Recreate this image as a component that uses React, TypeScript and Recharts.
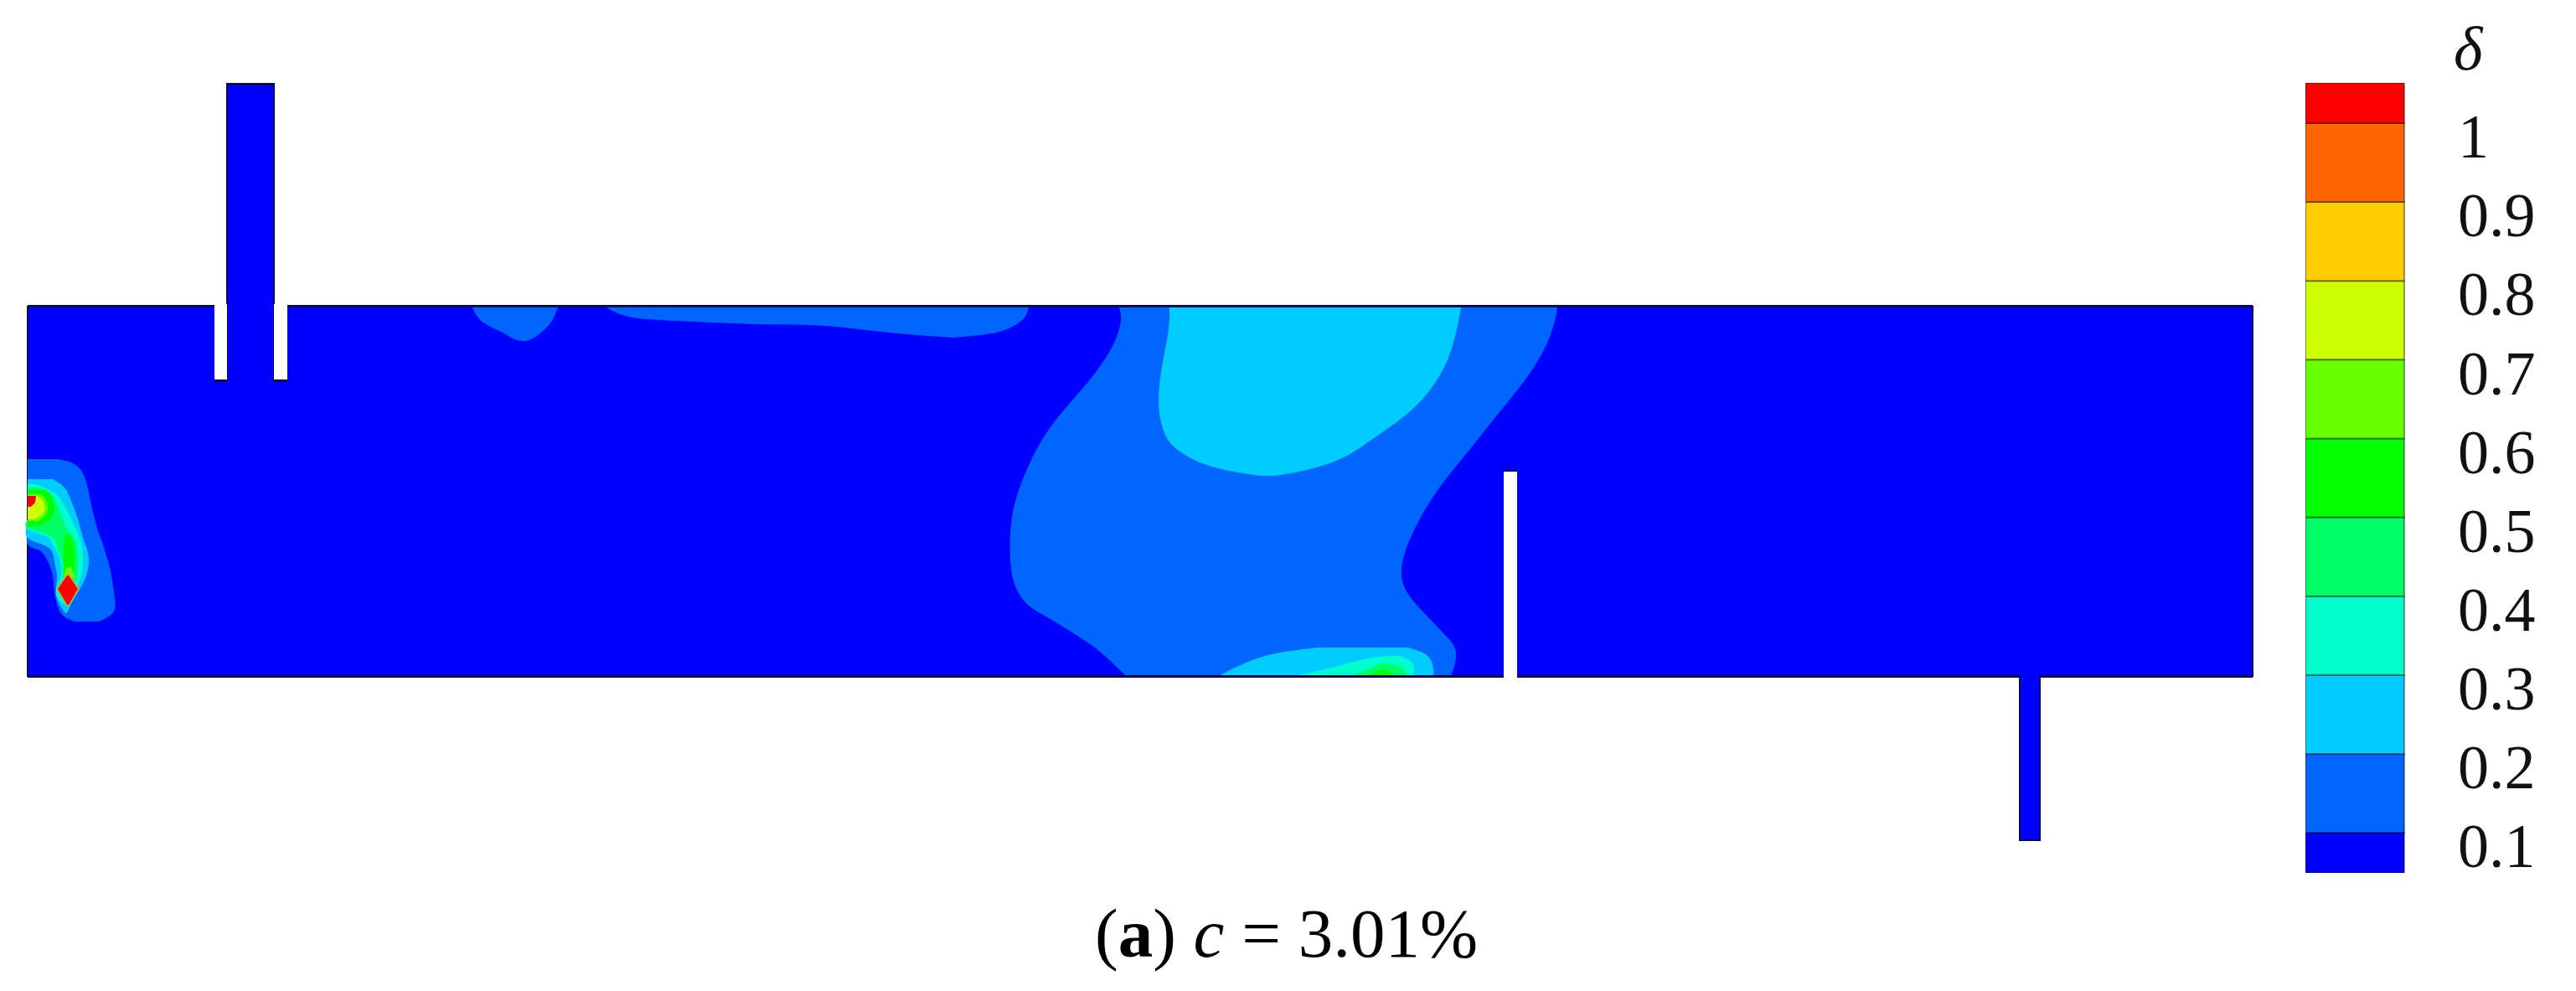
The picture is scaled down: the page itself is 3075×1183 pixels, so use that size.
import React from 'react';
import { Area, BarChart, Bar, ComposedChart, XAxis, YAxis } from 'recharts';

const WIDTH = 3075;
const HEIGHT = 1183;
const SERIF = '"Liberation Serif", serif';
const EDGE = '#0a0a50';

// contour levels of the colour bar, lowest first
const levelLabels = ['0.1', '0.2', '0.3', '0.4', '0.5', '0.6', '0.7', '0.8', '0.9', '1'];
const levelTicks = [0.1, 0.2, 0.3, 0.4, 0.5, 0.6, 0.7, 0.8, 0.9, 1];
const bandColors = ['#0000ff', '#0066ff', '#00ccff', '#00ffcc', '#00ff66', '#00ff00', '#66ff00', '#ccff00', '#ffcc00', '#ff6600', '#ff0000'];
const bandSizes = [0.1, 0.1, 0.1, 0.1, 0.1, 0.1, 0.1, 0.1, 0.1, 0.1, 0.051];

// every region: [height, left edge, right edge]
type Row = [number, number, number];

const tank: Row[] = [[365, 33, 2689], [808, 33, 2689]];
const inletPipe: Row[] = [[100, 271, 327], [455, 271, 327]];
const outletPipe: Row[] = [[808, 2411, 2435], [1003, 2411, 2435]];
const leftSlot: Row[] = [[363, 256, 271], [454, 256, 271]];
const rightSlot: Row[] = [[363, 327, 343], [454, 327, 343]];
const baffle: Row[] = [[562, 1795, 1811], [810, 1795, 1811]];

// thin dark outlines along the flat edges
const outlineStrips: Row[][] = [
  [[364, 33, 2689], [367, 33, 2689]],
  [[806, 33, 2689], [809, 33, 2689]],
  [[99, 270, 328], [102, 270, 328]],
  [[1002, 2410, 2436], [1004, 2410, 2436]],
];
// where a pipe joins the tank the outline stops
const openingStrips: Row[][] = [
  [[800, 2412, 2434], [815, 2412, 2434]],
  [[360, 272, 326], [372, 272, 326]],
];
const slotStrips: Row[][] = [
  [[453, 256, 271], [456, 256, 271]],
  [[453, 327, 343], [456, 327, 343]],
  [[561, 1795, 1811], [563, 1795, 1811]],
];

const topSmall: Row[] = [[367, 564, 666], [377, 569, 662], [387, 580, 656], [397, 600, 646], [404, 612, 636], [407, 622, 628]];
const topLong: Row[] = [[367, 724, 1228], [378, 750, 1224], [383, 806, 1219], [387, 908, 1214], [389, 985, 1210], [397, 1061, 1189], [403, 1138, 1139]];
const midBlobEdges: Row[] = [
  [367, 1336, 1859], [383, 1338, 1856], [407, 1331, 1848], [430, 1318, 1836], [457, 1298, 1818], [487, 1272, 1794],
  [517, 1249, 1770], [547, 1232, 1746], [577, 1219, 1722], [607, 1210, 1702], [637, 1206, 1686], [667, 1206, 1675],
  [697, 1211, 1675], [722, 1227, 1691], [738, 1252, 1706], [757, 1283, 1724], [778, 1313, 1738], [807, 1344, 1732],
];
const midCore: Row[] = [
  [367, 1396, 1744], [393, 1395, 1739], [427, 1389, 1729], [460, 1384, 1711], [493, 1384, 1681], [523, 1393, 1640],
  [540, 1410, 1615], [552, 1432, 1590], [561, 1462, 1560], [566, 1490, 1535], [568, 1505, 1520],
];
const floorCyan: Row[] = [[773, 1573, 1680], [780, 1523, 1700], [790, 1490, 1709], [800, 1468, 1711], [807, 1455, 1711]];
const floorTeal: Row[] = [[783, 1657, 1670], [788, 1623, 1682], [797, 1590, 1688], [807, 1545, 1686]];
const floorMint: Row[] = [[792, 1648, 1660], [798, 1635, 1675], [807, 1612, 1680]];
const floorGreen: Row[] = [[800, 1645, 1655], [807, 1630, 1665]];

const plumeOuter: Row[] = [
  [548, 33, 67], [553, 33, 87], [567, 33, 100], [593, 33, 107], [627, 33, 115], [650, 33, 123], [657, 47, 125],
  [670, 57, 129], [687, 63, 133], [707, 65, 136], [727, 70, 137], [737, 78, 128], [742, 90, 118],
];
const plumeCyan: Row[] = [
  [572, 33, 63], [580, 33, 75], [593, 33, 83], [620, 33, 93], [642, 33, 99], [653, 57, 103], [670, 65, 106],
  [687, 68, 103], [700, 67, 97], [717, 69, 87], [732, 78, 80],
];
const plumeTeal: Row[] = [
  [578, 33, 43], [587, 33, 63], [600, 33, 75], [620, 33, 85], [632, 33, 91], [640, 55, 94], [650, 63, 97],
  [667, 71, 99], [687, 73, 97], [700, 68, 92], [713, 68, 87], [722, 78, 82],
];
const plumeMint: Row[] = [
  [582, 33, 48], [592, 33, 62], [607, 33, 70], [620, 33, 75], [630, 33, 79], [640, 60, 87], [653, 68, 92],
  [670, 74, 93], [687, 75, 92], [700, 75, 87],
];
const headGreen: Row[] = [[585, 33, 55], [593, 33, 62], [607, 33, 65], [620, 33, 60], [628, 33, 45]];
const armGreen: Row[] = [[638, 78, 84], [653, 76, 88], [670, 76, 89], [687, 76, 88]];
const headLime: Row[] = [[590, 33, 50], [600, 33, 56], [612, 33, 56], [622, 33, 45]];
const armLime: Row[] = [[677, 79, 85], [690, 76, 90]];
const headYellow: Row[] = [[592, 33, 45], [600, 33, 52], [612, 33, 52], [620, 33, 40]];
const headRed: Row[] = [[592, 33, 43], [600, 33, 42], [605, 33, 37]];
const diamondHalo: Row[] = [[684, 80, 82], [703, 67, 95], [724, 80, 82]];
const diamondRed: Row[] = [[687, 80, 82], [703, 69, 93], [722, 80, 82]];

const toData = (rows: Row[]) => rows.map(([y, left, right]) => ({ y, range: [left, right] }));

// draw order matters, later regions sit on top
const smoothRegions: [Row[], string][] = [
  [topSmall, '#0066ff'], [topLong, '#0066ff'], [midBlobEdges, '#0066ff'], [midCore, '#00ccff'],
  [floorCyan, '#00ccff'], [floorTeal, '#00ffcc'], [floorMint, '#00ff66'], [floorGreen, '#00ff00'],
  [plumeOuter, '#0066ff'], [plumeCyan, '#00ccff'], [plumeTeal, '#00ffcc'], [plumeMint, '#00ff66'],
  [headGreen, '#00ff00'], [armGreen, '#00ff00'], [headLime, '#66ff00'], [armLime, '#66ff00'], [headYellow, '#ccff00'],
];
const sharpRegions: [Row[], string][] = [[headRed, '#ff0000'], [diamondHalo, '#b0c040'], [diamondRed, '#ff0000']];

const barRow = [Object.fromEntries(bandSizes.map((size, i) => [`band${i}`, size]))];

const Region = (rows: Row[], fill: string, type: 'linear' | 'natural', stroke = 'none', key = '') => (
  <Area
    key={key}
    data={toData(rows)}
    dataKey="range"
    type={type}
    fill={fill}
    fillOpacity={1}
    stroke={stroke}
    strokeWidth={2}
    dot={false}
    activeDot={false}
    isAnimationActive={false}
  />
);

const App = () => (
  <div style={{ position: 'fixed', left: 0, top: 0, width: WIDTH, height: HEIGHT, background: '#fff', overflow: 'hidden' }}>
    <div style={{ position: 'absolute', left: 0, top: 0 }}>
      <ComposedChart width={WIDTH} height={HEIGHT} layout="vertical" margin={{ top: 0, right: 0, bottom: 0, left: 0 }}>
        <XAxis type="number" domain={[0, WIDTH]} hide allowDataOverflow />
        <YAxis type="number" dataKey="y" domain={[0, HEIGHT]} hide allowDataOverflow />
        {Region(outletPipe, '#0000ff', 'linear', EDGE, 'outlet')}
        {Region(tank, '#0000ff', 'linear', EDGE, 'tank')}
        {Region(inletPipe, '#0000ff', 'linear', EDGE, 'inlet')}
        {smoothRegions.map(([rows, fill], i) => Region(rows, fill, 'natural', 'none', `s${i}`))}
        {sharpRegions.map(([rows, fill], i) => Region(rows, fill, 'linear', 'none', `r${i}`))}
        {outlineStrips.map((rows, i) => Region(rows, EDGE, 'linear', 'none', `edge${i}`))}
        {openingStrips.map((rows, i) => Region(rows, '#0000ff', 'linear', 'none', `open${i}`))}
        {Region(leftSlot, '#ffffff', 'linear', 'none', 'slotL')}
        {Region(rightSlot, '#ffffff', 'linear', 'none', 'slotR')}
        {Region(baffle, '#ffffff', 'linear', 'none', 'baffle')}
        {slotStrips.map((rows, i) => Region(rows, EDGE, 'linear', 'none', `slotEdge${i}`))}
      </ComposedChart>
    </div>

    {/* colour bar */}
    <div style={{ position: 'absolute', left: 2752, top: 99 }}>
      <BarChart width={320} height={1003} data={barRow} margin={{ top: 0, right: 0, bottom: 60, left: 0 }} barCategoryGap={0}>
        <XAxis hide dataKey={() => 'bar'} />
        <YAxis
          orientation="right"
          type="number"
          domain={[0.049, 1.051]}
          ticks={levelTicks}
          tickFormatter={(v: number) => levelLabels[levelTicks.indexOf(v)]}
          interval={0}
          width={202}
          axisLine={false}
          tickLine={false}
          tickMargin={58}
          tick={{ fontFamily: SERIF, fontSize: 74, fill: '#111', textAnchor: 'start', dy: 15 }}
          allowDataOverflow
        />
        {bandColors.map((color, i) => (
          <Bar
            key={color}
            dataKey={`band${i}`}
            stackId="levels"
            fill={color}
            stroke="#00000066"
            strokeWidth={2}
            isAnimationActive={false}
          />
        ))}
      </BarChart>
    </div>

    <div style={{ position: 'absolute', left: 2929, top: 13, fontFamily: SERIF, fontStyle: 'italic', fontSize: 74, lineHeight: '90px', color: '#111' }}>δ</div>

    <div style={{ position: 'absolute', left: 1307, top: 1068, fontFamily: SERIF, fontSize: 83, lineHeight: '92px', color: '#000', whiteSpace: 'pre' }}>
      (<b>a</b>) <i>c</i> = 3.01%
    </div>
  </div>
);

export default App;
